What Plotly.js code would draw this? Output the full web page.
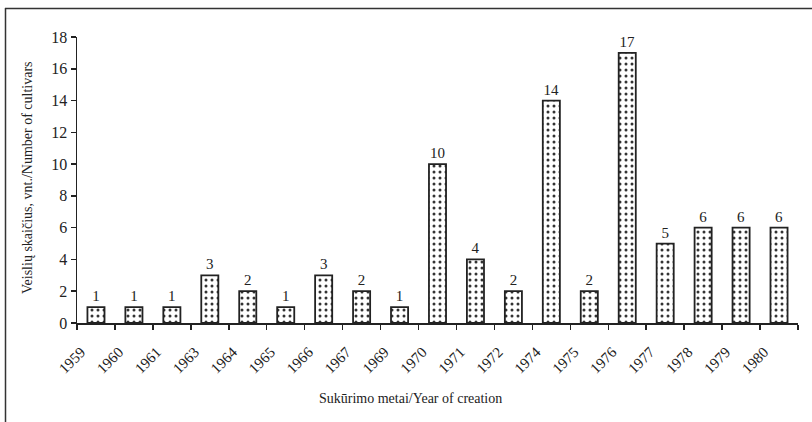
<!DOCTYPE html>
<html>
<head>
<meta charset="utf-8">
<script src="https://cdn.plot.ly/plotly-3.0.1.min.js"></script>
<style>html,body{margin:0;padding:0;background:#fff;}#chart{width:812px;height:422px;}</style>
</head>
<body>
<div id="chart"></div>
<script>
const years = ['1959','1960','1961','1963','1964','1965','1966','1967','1969','1970','1971','1972','1974','1975','1976','1977','1978','1979','1980'];
const cultivars = [1,1,1,3,2,1,3,2,1,10,4,2,14,2,17,5,6,6,6];
const yTitle = 'Veislių skaičius, vnt./Number of cultivars';
const xTitle = 'Sukūrimo metai/Year of creation';

const L = 77, R = 14, T = 37, B = 99, W = 812, H = 422;
const pw = W - L - R, ph = H - T - B;
const px = x => (x - L) / pw;
const py = y => 1 - (y - T) / ph;
const serif = '"Liberation Serif", serif';

const trace = {
  type: 'bar',
  x: years,
  y: cultivars,
  width: 0.45,
  text: cultivars.map(String),
  textposition: 'outside',
  cliponaxis: false,
  textfont: {family: serif, size: 15, color: '#222'},
  marker: {
    color: '#fff',
    line: {color: '#222', width: 1.8},
    pattern: {shape: '.', fgcolor: '#333', bgcolor: '#fff', size: 6, solidity: 0.2}
  },
  hoverinfo: 'x+y'
};

const layout = {
  width: W, height: H,
  margin: {l: L, r: R, t: T, b: B, pad: 0},
  paper_bgcolor: '#fff', plot_bgcolor: '#fff',
  showlegend: false,
  font: {family: serif, size: 14, color: '#222'},
  xaxis: {
    type: 'category',
    range: [-0.5, 18.5],
    showline: true, linecolor: '#222', linewidth: 1.5,
    ticks: 'outside', tickson: 'boundaries', ticklen: 5, tickcolor: '#222', tickwidth: 1.5,
    tickangle: -45,
    ticklabelshift: -15,
    ticklabelstandoff: 13,
    tickfont: {family: serif, size: 15, color: '#222'},
    showgrid: false, zeroline: false, fixedrange: true
  },
  yaxis: {
    range: [0, 18], dtick: 2,
    showline: true, linecolor: '#222', linewidth: 1.5,
    ticks: 'outside', ticklen: 5, tickcolor: '#222', tickwidth: 1.5,
    tickfont: {family: serif, size: 16, color: '#222'},
    showgrid: false, zeroline: false, fixedrange: true
  },
  annotations: [
    {text: xTitle, xref: 'paper', yref: 'paper', x: px(410), y: py(398), xanchor: 'center', yanchor: 'middle', showarrow: false, font: {family: serif, size: 14, color: '#222'}},
    {text: yTitle, xref: 'paper', yref: 'paper', x: px(27), y: py(178), xanchor: 'center', yanchor: 'middle', textangle: -90, showarrow: false, font: {family: serif, size: 14, color: '#222'}}
  ],
  shapes: [
    {type: 'line', xref: 'paper', yref: 'paper', x0: px(5), x1: px(812), y0: py(8.5), y1: py(8.5), line: {color: '#333', width: 1.5}},
    {type: 'line', xref: 'paper', yref: 'paper', x0: px(5.5), x1: px(5.5), y0: py(8), y1: py(422), line: {color: '#333', width: 1.5}}
  ]
};

Plotly.newPlot('chart', [trace], layout, {displayModeBar: false, staticPlot: true});
</script>
</body>
</html>
